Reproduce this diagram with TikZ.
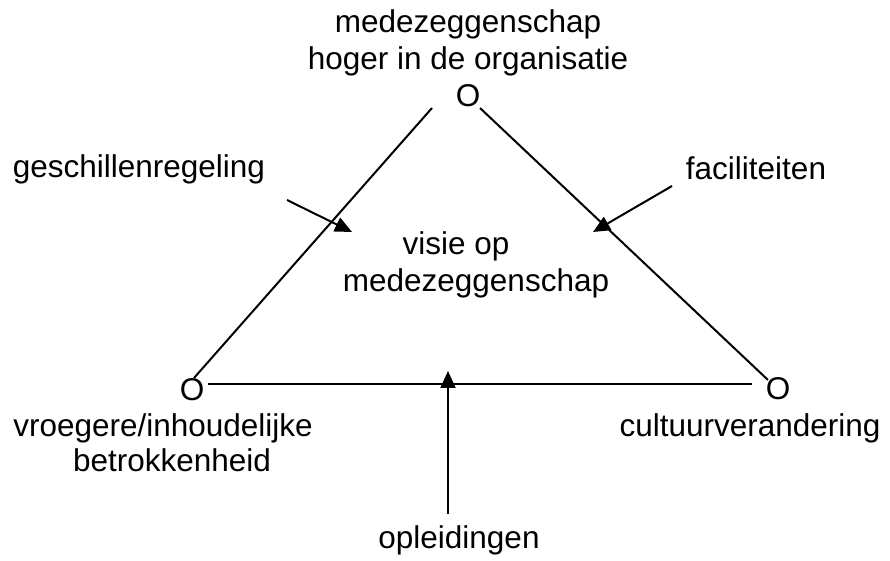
\documentclass[tikz,border=0pt]{standalone}
\usepackage{fontspec}
\setmainfont{Liberation Sans}
\usetikzlibrary{arrows.meta}
\begin{document}
\begin{tikzpicture}[x=0.5pt,y=-0.5pt,
  lbl/.style={font=\fontsize{15.75}{18}\selectfont, inner sep=0pt, anchor=base},
  edge/.style={line width=1pt},
  pointer/.style={line width=1pt,-{Triangle[length=8.5pt,width=7.5pt]}}]
\useasboundingbox (0,0) rectangle (890,561);
% labels
\node[lbl] (top1) at (468,33) {medezeggenschap};
\node[lbl] (top2) at (468,70) {hoger in de organisatie};
\node[lbl] (tO) at (468,107) {O};
\node[lbl] (lO) at (192,401) {O};
\node[lbl] (rO) at (778,400) {O};
\node[lbl] (ges) at (139,178) {geschillenregeling};
\node[lbl] (fac) at (756,180) {faciliteiten};
\node[lbl] (vis1) at (456,255) {visie op};
\node[lbl] (vis2) at (476,292) {medezeggenschap};
\node[lbl] (vro1) at (163,437) {vroegere/inhoudelijke};
\node[lbl] (vro2) at (172,472) {betrokkenheid};
\node[lbl] (cul) at (750,437) {cultuurverandering};
\node[lbl] (opl) at (459,549) {opleidingen};
% triangle end points
\coordinate (tl) at (432,108);
\coordinate (tr) at (480,108);
\coordinate (lt) at (194,378);
\coordinate (rt) at (768,380);
\coordinate (lb) at (208,384);
\coordinate (rb) at (752,384);
\draw[edge] (tl) -- (lt);
\draw[edge] (tr) -- (rt);
\draw[edge] (lb) -- (rb);
% pointers
\coordinate (g0) at (287,200);
\coordinate (g1) at (352,232);
\coordinate (f0) at (672,186);
\coordinate (f1) at (593,232);
\coordinate (o0) at (448,514);
\coordinate (o1) at (448,371);
\draw[pointer] (g0) -- (g1);
\draw[pointer] (f0) -- (f1);
\draw[pointer] (o0) -- (o1);
\end{tikzpicture}
\end{document}
